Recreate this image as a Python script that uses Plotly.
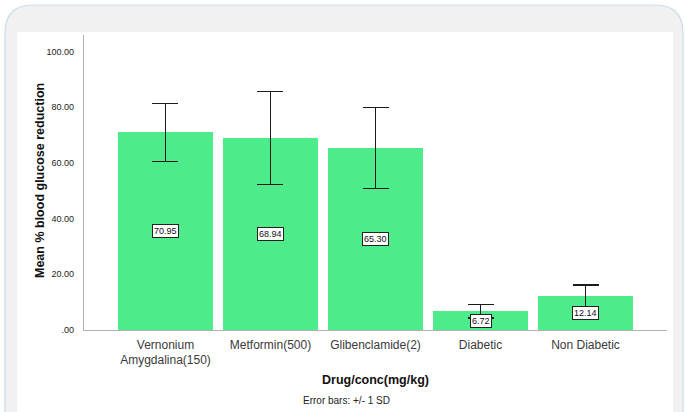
import plotly.graph_objects as go

# Group means and standard deviations (% blood glucose reduction)
categories = ["Vernonium<br>Amygdalina(150)", "Metformin(500)", "Glibenclamide(2)",
              "Diabetic", "Non Diabetic"]
mean_reduction = [70.95, 68.94, 65.30, 6.72, 12.14]
sd_reduction = [10.3, 16.7, 14.5, 2.4, 4.0]
mean_labels = ["70.95", "68.94", "65.30", "6.72", "12.14"]

y_tick_values = [0, 20, 40, 60, 80, 100]
y_tick_labels = [".00", "20.00", "40.00", "60.00", "80.00", "100.00"]

W, H = 685, 412
L, R, T, B = 84, 18, 35, 82
PW, PH = W - L - R, H - T - B


def px_x(x):
    return (x - L) / PW


def px_y(y):
    return (H - B - y) / PH


bar_color = "#4deb89"
x_idx = list(range(len(categories)))

fig = go.Figure()
fig.add_trace(go.Bar(
    x=x_idx,
    y=mean_reduction,
    width=0.905,
    marker=dict(color=bar_color, line=dict(width=0)),
    error_y=dict(type="data", array=sd_reduction, visible=True,
                 color="#1a1a1a", thickness=1.1, width=13),
    hoverinfo="skip",
    showlegend=False,
))

# Value boxes placed at half the bar height
annotations = []
for i, (v, lab) in enumerate(zip(mean_reduction, mean_labels)):
    annotations.append(dict(
        x=i, y=v / 2, xref="x", yref="y", text=lab, showarrow=False,
        font=dict(family="Liberation Sans Narrow, Arial Narrow, Liberation Sans, Arial",
                  size=9, color="#111"),
        bgcolor="white", bordercolor="#222", borderwidth=1, borderpad=1,
    ))

annotations += [
    dict(x=px_x(40), y=px_y(181), xref="paper", yref="paper",
         text="<b>Mean % blood glucose reduction</b>", textangle=-90,
         showarrow=False, xanchor="center", yanchor="middle",
         font=dict(family="Liberation Sans, Arial", size=12.5, color="#111")),
    dict(x=px_x(375.5), y=px_y(380), xref="paper", yref="paper",
         text="<b>Drug/conc(mg/kg)</b>", showarrow=False,
         xanchor="center", yanchor="middle",
         font=dict(family="Liberation Sans, Arial", size=12.5, color="#111")),
    dict(x=px_x(346), y=px_y(400), xref="paper", yref="paper",
         text="Error bars: +/- 1 SD", showarrow=False,
         xanchor="center", yanchor="middle",
         font=dict(family="Liberation Sans Narrow, Arial Narrow, Liberation Sans, Arial",
                   size=10, color="#222")),
]

# Rounded card behind the chart, with a white inner panel
cx0, cx1, cy_top, cy_bot = px_x(5), px_x(683), px_y(5), px_y(430)
rx, ry = 28 / PW, 28 / PH
card_path = (
    f"M {cx0},{cy_bot} L {cx0},{cy_top - ry} Q {cx0},{cy_top} {cx0 + rx},{cy_top} "
    f"L {cx1 - rx},{cy_top} Q {cx1},{cy_top} {cx1},{cy_top - ry} L {cx1},{cy_bot} Z"
)
shapes = [
    dict(type="path", path=card_path, xref="paper", yref="paper",
         fillcolor="#f1f1f1", line=dict(color="#c9dde8", width=1.2), layer="below"),
    dict(type="rect", xref="paper", yref="paper",
         x0=px_x(17), x1=px_x(673), y0=px_y(430), y1=px_y(32),
         fillcolor="white", line=dict(width=0), layer="below"),
]

fig.update_layout(
    width=W, height=H,
    margin=dict(l=L, r=R, t=T, b=B, pad=0),
    paper_bgcolor="white",
    plot_bgcolor="rgba(0,0,0,0)",
    shapes=shapes,
    annotations=annotations,
    bargap=0,
    xaxis=dict(
        range=[-0.776, 4.776],
        tickvals=x_idx, ticktext=categories,
        showline=True, linecolor="#b0b0b0", linewidth=1.2,
        showgrid=False, zeroline=False, ticks="",
        ticklabelstandoff=3,
        tickfont=dict(family="Liberation Sans, Arial", size=12, color="#3a3a3a"),
        fixedrange=True,
    ),
    yaxis=dict(
        range=[0, 105.9],
        tickvals=y_tick_values, ticktext=y_tick_labels,
        showline=True, linecolor="#b0b0b0", linewidth=1.2,
        showgrid=False, zeroline=False, ticks="",
        ticklabelstandoff=7,
        tickfont=dict(family="Liberation Sans Narrow, Arial Narrow, Liberation Sans, Arial",
                      size=9, color="#222"),
        fixedrange=True,
    ),
)

fig.write_html("out.html", config={"displayModeBar": False})
